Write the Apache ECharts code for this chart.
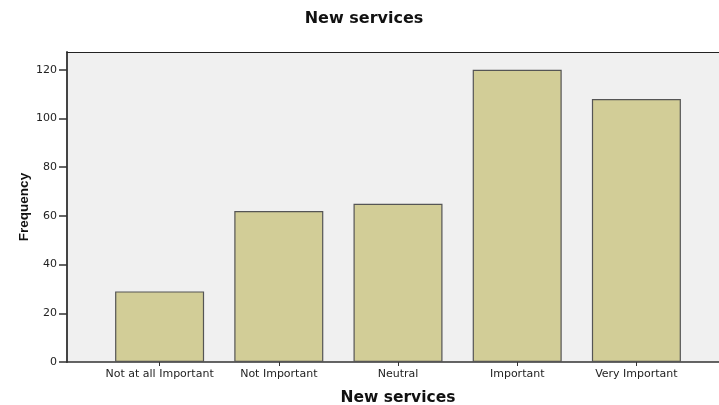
<!DOCTYPE html>
<html><head><meta charset="utf-8">
<script src="https://cdn.jsdelivr.net/npm/echarts@6/dist/echarts.min.js"></script>
<style>html,body{margin:0;padding:0;background:#fff}#c{width:719px;height:405px}</style>
</head><body><div id="c"></div>
<script>
const categories = ['Not at all Important','Not Important','Neutral','Important','Very Important'];
const frequency = [29, 62, 65, 120, 108];
const yTicks = [0, 20, 40, 60, 80, 100, 120];

const chart = echarts.init(document.getElementById('c'));
const font = '"DejaVu Sans", sans-serif';
const yFont = '"Liberation Sans", Arial, sans-serif';
chart.setOption({
  animation: false,
  title: {text: 'New services', left: 359, top: 6, textAlign: 'center',
    textStyle: {fontFamily: font, fontSize: 16, fontWeight: 'bold', color: '#111'}},
  grid: [
    {left: 67, right: 0, top: 52, bottom: 43, outerBoundsMode: 'none', containLabel: false,
     show: true, backgroundColor: '#f0f0f0', borderWidth: 0},
    {left: 100, right: 23, top: 52, bottom: 43, outerBoundsMode: 'none', containLabel: false}
  ],
  xAxis: [
    {type: 'value', gridIndex: 0, min: 0, max: 1, splitLine: {show: false},
     axisLabel: {show: false}, axisTick: {show: false},
     axisLine: {show: true, lineStyle: {color: '#333', width: 1.5}}},
    {type: 'value', gridIndex: 0, position: 'top', min: 0, max: 1, splitLine: {show: false},
     axisLabel: {show: false}, axisTick: {show: false},
     axisLine: {show: true, lineStyle: {color: '#222', width: 1.2}}},
    {type: 'category', gridIndex: 1, data: categories,
     axisLine: {show: false},
     axisTick: {show: true, alignWithLabel: true, length: 4, lineStyle: {color: '#333'}},
     axisLabel: {fontFamily: font, fontSize: 11, color: '#222', margin: 7, interval: 0},
     name: 'New services', nameLocation: 'middle', nameGap: 28, nameMoveOverlap: false,
     nameTextStyle: {fontFamily: font, fontSize: 15.5, fontWeight: 'bold', color: '#111'}}
  ],
  yAxis: [
    {type: 'value', gridIndex: 0, min: 0, max: 127.3,
     splitLine: {show: false},
     axisLine: {show: true, lineStyle: {color: '#444', width: 2}},
     axisTick: {show: true, length: 8, customValues: yTicks, lineStyle: {color: '#333', width: 1.5}},
     axisLabel: {fontFamily: font, fontSize: 11, color: '#222', margin: 10, customValues: yTicks},
     name: 'Frequency', nameLocation: 'middle', nameGap: 36, nameRotate: 90, nameMoveOverlap: false,
     nameTextStyle: {fontFamily: yFont, fontSize: 13.5, fontWeight: 'bold', color: '#111'}},
    {type: 'value', gridIndex: 1, min: 0, max: 127.3, show: false}
  ],
  series: [{
    type: 'bar', xAxisIndex: 2, yAxisIndex: 1, data: frequency, barWidth: 89,
    itemStyle: {color: '#d2cd97', borderColor: '#555', borderWidth: 1.2}
  }]
});
</script></body></html>
